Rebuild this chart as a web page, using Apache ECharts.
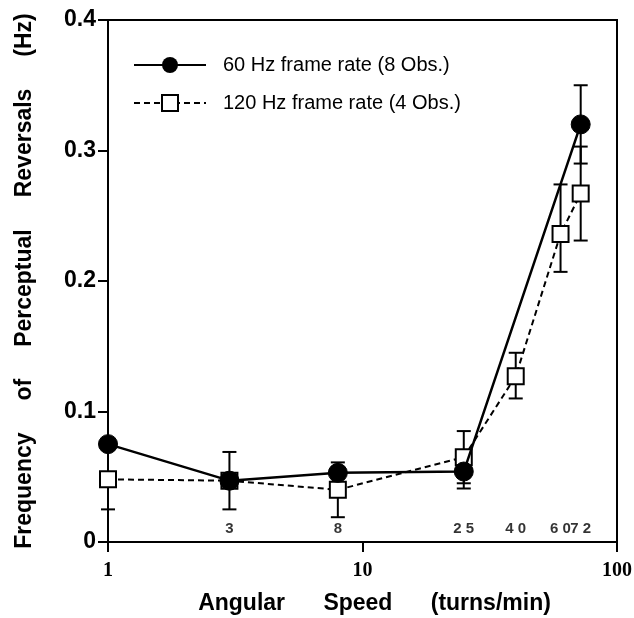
<!DOCTYPE html>
<html>
<head>
<meta charset="utf-8">
<script src="https://cdn.jsdelivr.net/npm/echarts@6/dist/echarts.min.js"></script>
<style>
  html, body { margin: 0; padding: 0; background: #fff; }
  #chart { width: 634px; height: 618px; }
</style>
</head>
<body>
<div id="chart"></div>
<script>
// angular speeds (turns/min)
const speeds60 = [1, 3, 8, 25, 72];
const hz60 = [0.075, 0.047, 0.053, 0.054, 0.320];
const hz60Low = [0.072, 0.044, 0.050, 0.041, 0.290];
const hz60High = [0.078, 0.050, 0.056, 0.067, 0.350];

const speeds120 = [1, 3, 8, 25, 40, 60, 72];
const hz120 = [0.048, 0.047, 0.040, 0.065, 0.127, 0.236, 0.267];
const hz120Low = [0.025, 0.025, 0.019, 0.045, 0.110, 0.207, 0.231];
const hz120High = [0.071, 0.069, 0.061, 0.085, 0.145, 0.274, 0.303];

// speed labels written inside the plot
const speedMarks = [3, 8, 25, 40, 60, 72];
const speedMarkText = ['3', '8', '2 5', '4 0', '6 0', '7 2'];

const chart = echarts.init(document.getElementById('chart'));

function errorBars(xs, lows, highs) {
  return {
    type: 'custom',
    z: 1,
    silent: true,
    data: xs.map((x, i) => [x, lows[i], highs[i]]),
    renderItem: (params, api) => {
      const lo = api.coord([api.value(0), api.value(1)]);
      const hi = api.coord([api.value(0), api.value(2)]);
      const w = 7;
      const style = { stroke: '#000', lineWidth: 2 };
      return {
        type: 'group',
        children: [
          { type: 'line', shape: { x1: lo[0], y1: lo[1], x2: hi[0], y2: hi[1] }, style },
          { type: 'line', shape: { x1: lo[0] - w, y1: lo[1], x2: lo[0] + w, y2: lo[1] }, style },
          { type: 'line', shape: { x1: hi[0] - w, y1: hi[1], x2: hi[0] + w, y2: hi[1] }, style }
        ]
      };
    }
  };
}

const option = {
  backgroundColor: '#fff',
  animation: false,
  textStyle: { fontFamily: 'Liberation Sans, Arial, sans-serif', color: '#000' },
  grid: {
    left: 108, right: 17, top: 20, bottom: 76,
    outerBoundsMode: 'none',
    show: true, borderColor: '#000', borderWidth: 2
  },
  legend: {
    left: 128,
    top: 50,
    orient: 'vertical',
    itemWidth: 72,
    itemHeight: 20,
    itemGap: 18,
    data: ['60 Hz frame rate (8 Obs.)', '120 Hz frame rate (4 Obs.)'],
    textStyle: { fontSize: 20, color: '#000', padding: [0, 0, 0, 12] }
  },
  xAxis: {
    type: 'log',
    logBase: 10,
    min: 1,
    max: 100,
    name: 'Angular      Speed      (turns/min)',
    nameLocation: 'middle',
    nameGap: 50,
    nameTextStyle: { fontSize: 23, fontWeight: 'bold', color: '#000', padding: [0, 0, 0, 24] },
    axisLine: { lineStyle: { color: '#000', width: 2 } },
    axisTick: { show: true, length: 10, lineStyle: { color: '#000', width: 2 } },
    minorTick: { show: false },
    splitLine: { show: false },
    axisLabel: {
      fontFamily: 'Liberation Serif, Times New Roman, serif',
      fontWeight: 'bold',
      fontSize: 20,
      color: '#000',
      margin: 19
    }
  },
  yAxis: {
    type: 'value',
    min: 0,
    max: 0.4,
    interval: 0.1,
    name: 'Frequency     of     Perceptual     Reversals     (Hz)',
    nameLocation: 'middle',
    nameGap: 72,
    nameTextStyle: { fontSize: 23, fontWeight: 'bold', color: '#000' },
    axisLine: { lineStyle: { color: '#000', width: 2 } },
    axisTick: { show: true, length: 10, lineStyle: { color: '#000', width: 2 } },
    splitLine: { show: false },
    axisLabel: {
      fontSize: 23,
      fontWeight: 'bold',
      color: '#000',
      margin: 12,
      formatter: v => (v === 0 ? '0' : v.toFixed(1))
    }
  },
  series: [
    errorBars(speeds120, hz120Low, hz120High),
    errorBars(speeds60, hz60Low, hz60High),
    {
      name: '120 Hz frame rate (4 Obs.)',
      type: 'line',
      z: 3,
      data: speeds120.map((x, i) => [x, hz120[i]]),
      symbol: 'rect',
      symbolSize: 16,
      lineStyle: { color: '#000', width: 2, type: [6, 4] },
      itemStyle: { color: '#fff', borderColor: '#000', borderWidth: 2 }
    },
    {
      name: '60 Hz frame rate (8 Obs.)',
      type: 'line',
      z: 4,
      data: speeds60.map((x, i) => [x, hz60[i]]),
      symbol: 'circle',
      symbolSize: 19,
      lineStyle: { color: '#000', width: 2.5 },
      itemStyle: { color: '#000', borderColor: '#000' }
    },
    {
      type: 'scatter',
      z: 5,
      silent: true,
      symbolSize: 0,
      data: speedMarks.map((x, i) => ({ value: [x, 0], label: { formatter: speedMarkText[i] } })),
      label: {
        show: true,
        position: 'top',
        distance: 6,
        fontSize: 15,
        fontWeight: 'bold',
        color: '#000'
      }
    }
  ]
};

chart.setOption(option);
</script>
</body>
</html>
